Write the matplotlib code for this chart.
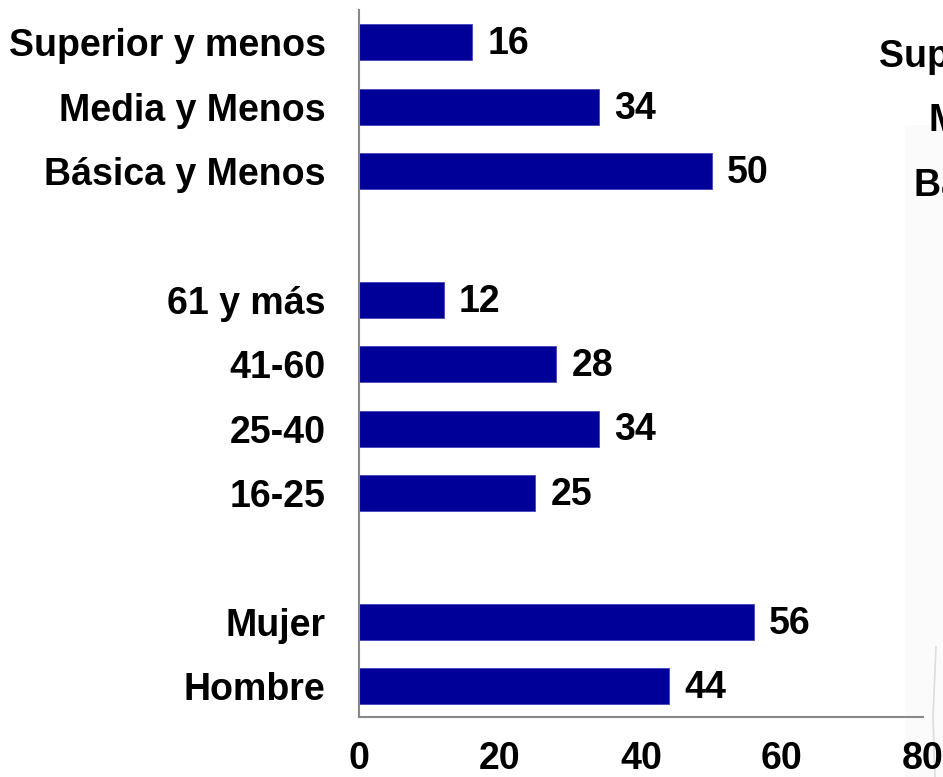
import matplotlib
matplotlib.use("Agg")
import matplotlib.pyplot as plt
from matplotlib.patches import Rectangle

categories = ["Hombre", "Mujer", "16-25", "25-40", "41-60", "61 y más",
              "Básica y Menos", "Media y Menos", "Superior y menos"]
values = [44, 56, 25, 34, 28, 12, 50, 34, 16]
positions = [0, 1, 3, 4, 5, 6, 8, 9, 10]
xticks = [0, 20, 40, 60, 80]
ghost_labels = ["Superior y menos", "Media y Menos", "Básica y Menos"]

plt.rcParams['font.family'] = ['Liberation Sans', 'DejaVu Sans']
plt.rcParams['font.weight'] = 'bold'

FS = 27
W, H = 943, 777
fig = plt.figure(figsize=(W / 100, H / 100), dpi=100)

# faint background panel of neighbouring chart on the right edge
fig.patches.append(Rectangle((905 / W, 0), (W - 905) / W, (H - 125) / H,
                             transform=fig.transFigure, facecolor='#fbfbfb',
                             edgecolor='none', zorder=-5))
fig.add_artist(plt.Line2D([935 / W, 933 / W, 936 / W], [0, 60 / H, 130 / H],
                          transform=fig.transFigure, color='#dddddd', lw=1.2, zorder=-4))

ax = fig.add_axes([359 / W, 60 / H, (923 - 359) / W, (767 - 60) / H])
ax.set_zorder(2)
ax.set_facecolor('none')
ax.barh(positions, values, height=0.56, color='#000099', edgecolor='#4444bb', linewidth=0.6)
for p, v in zip(positions, values):
    ax.text(v + 2.2, p - 0.03, f"{v}", va='center', ha='left', fontsize=FS, fontweight='bold')

ax.set_xlim(0, 80)
ax.set_ylim(-0.48, 10.5)
ax.set_yticks(positions)
ax.set_yticklabels(categories, fontsize=FS, fontweight='bold')
ax.set_xticks(xticks)
ax.set_xticklabels([str(t) for t in xticks], fontsize=FS, fontweight='bold')
ax.tick_params(axis='both', length=0)
ax.tick_params(axis='y', pad=24)
ax.tick_params(axis='x', pad=17)
for s in ['top', 'right']:
    ax.spines[s].set_visible(False)
for s in ['left', 'bottom']:
    ax.spines[s].set_color('#888888')
    ax.spines[s].set_linewidth(1.5)

# labels of the neighbouring chart, cut by the figure edge
for i, lab in enumerate(ghost_labels):
    fig.text(1196 / W, 1 - (57 + 64.3 * i) / H, lab, ha='right', va='center',
             fontsize=FS, fontweight='bold')

fig.savefig("out.png", dpi=100)
